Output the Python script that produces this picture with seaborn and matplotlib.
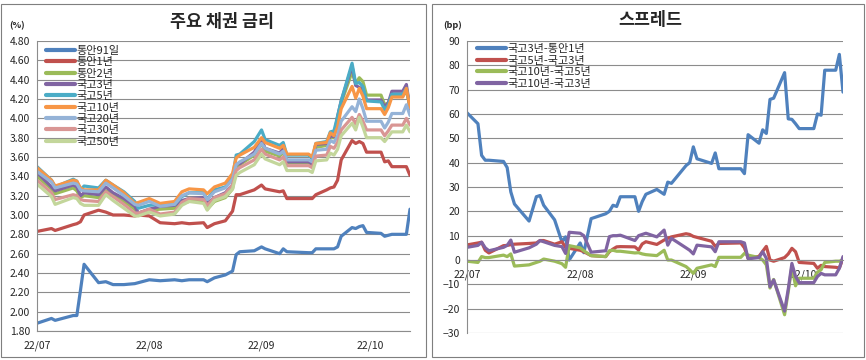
import pandas as pd
import matplotlib
matplotlib.use("Agg")
import matplotlib.pyplot as plt
import matplotlib.dates as mdates
from matplotlib.patches import Rectangle
from matplotlib.ticker import FormatStrFormatter
import seaborn as sns
import numpy as np

sns.set_style("white")
plt.rcParams['font.family'] = ['Noto Sans CJK KR', 'DejaVu Sans']

# ---- left chart: 주요 채권 금리 (%) ----
yield_dates = [
    "07-01", "07-05", "07-06", "07-11", "07-12", "07-13", "07-14", "07-18", "07-20", "07-22", "07-25", "07-28", "07-29",
    "08-01", "08-04", "08-08", "08-10", "08-12", "08-16", "08-17", "08-19", "08-22", "08-24", "08-25", "08-26", "08-30",
    "09-01", "09-02", "09-06", "09-07", "09-08", "09-14", "09-15", "09-16", "09-19", "09-20", "09-21", "09-22", "09-23",
    "09-26", "09-27", "09-28", "09-29", "09-30",
    "10-04", "10-05", "10-06", "10-07", "10-10", "10-11", "10-12",
]
msb91d = [1.88, 1.93, 1.91, 1.96, 1.96, 2.22, 2.49, 2.30, 2.31, 2.28, 2.28, 2.29, 2.30,
          2.33, 2.32, 2.33, 2.32, 2.33, 2.33, 2.31, 2.35, 2.38, 2.42, 2.59, 2.62, 2.63,
          2.67, 2.65, 2.60, 2.65, 2.62, 2.61, 2.61, 2.65, 2.65, 2.65, 2.65, 2.67, 2.78, 2.87, 2.86, 2.88, 2.89, 2.82,
          2.81, 2.78, 2.79, 2.80, 2.80, 2.80, 3.06]
msb1y = [2.83, 2.86, 2.84, 2.90, 2.91, 2.93, 3.00, 3.05, 3.03, 3.00, 3.00, 2.99, 3.00,
         2.99, 2.92, 2.91, 2.92, 2.91, 2.92, 2.87, 2.91, 2.94, 3.04, 3.21, 3.21, 3.26,
         3.31, 3.27, 3.24, 3.25, 3.17, 3.17, 3.17, 3.21, 3.26, 3.28, 3.29, 3.36, 3.57, 3.77, 3.74, 3.76, 3.74, 3.65,
         3.65, 3.55, 3.56, 3.50, 3.50, 3.50, 3.41]
msb2y = [3.40, 3.27, 3.22, 3.28, 3.25, 3.18, 3.20, 3.18, 3.25, 3.20, 3.14, 3.06, 3.02,
         3.05, 3.06, 3.07, 3.12, 3.14, 3.15, 3.06, 3.14, 3.18, 3.27, 3.50, 3.52, 3.62,
         3.74, 3.66, 3.61, 3.65, 3.54, 3.54, 3.52, 3.70, 3.72, 3.80, 3.80, 4.00, 4.16, 4.48, 4.36, 4.42, 4.38, 4.24,
         4.24, 4.14, 4.16, 4.23, 4.23, 4.28, 4.14]
ktb3y = [3.44, 3.29, 3.25, 3.31, 3.29, 3.20, 3.23, 3.21, 3.29, 3.23, 3.17, 3.09, 3.02,
         3.06, 3.09, 3.10, 3.15, 3.17, 3.18, 3.12, 3.18, 3.23, 3.31, 3.53, 3.53, 3.65,
         3.78, 3.69, 3.64, 3.69, 3.55, 3.55, 3.53, 3.73, 3.74, 3.82, 3.81, 4.02, 4.18, 4.54, 4.34, 4.32, 4.30, 4.19,
         4.19, 4.12, 4.16, 4.28, 4.28, 4.35, 4.10]
ktb5y = [3.50, 3.36, 3.29, 3.37, 3.35, 3.26, 3.30, 3.28, 3.36, 3.31, 3.24, 3.14, 3.07,
         3.10, 3.11, 3.11, 3.19, 3.23, 3.23, 3.16, 3.26, 3.29, 3.39, 3.62, 3.63, 3.76,
         3.88, 3.78, 3.72, 3.75, 3.62, 3.62, 3.58, 3.74, 3.76, 3.86, 3.87, 4.02, 4.18, 4.57, 4.36, 4.37, 4.33, 4.18,
         4.17, 4.09, 4.14, 4.25, 4.25, 4.31, 4.11]
ktb10y = [3.49, 3.36, 3.30, 3.36, 3.35, 3.28, 3.26, 3.26, 3.36, 3.31, 3.23, 3.12, 3.13,
          3.17, 3.12, 3.14, 3.24, 3.27, 3.26, 3.22, 3.29, 3.33, 3.43, 3.59, 3.62, 3.70,
          3.80, 3.75, 3.69, 3.72, 3.63, 3.63, 3.60, 3.74, 3.75, 3.85, 3.82, 3.91, 4.10, 4.33, 4.21, 4.31, 4.23, 4.10,
          4.10, 4.04, 4.11, 4.22, 4.22, 4.31, 4.11]
ktb20y = [3.45, 3.34, 3.28, 3.33, 3.32, 3.26, 3.25, 3.24, 3.33, 3.28, 3.20, 3.11, 3.10,
          3.14, 3.09, 3.11, 3.20, 3.23, 3.22, 3.16, 3.24, 3.28, 3.37, 3.52, 3.55, 3.63,
          3.74, 3.69, 3.63, 3.66, 3.57, 3.57, 3.55, 3.67, 3.68, 3.77, 3.75, 3.82, 3.97, 4.12, 4.07, 4.20, 4.10, 3.97,
          3.97, 3.90, 3.96, 4.05, 4.05, 4.14, 4.03]
ktb30y = [3.36, 3.23, 3.16, 3.21, 3.20, 3.16, 3.15, 3.14, 3.24, 3.19, 3.11, 3.02, 3.02,
          3.06, 3.01, 3.03, 3.13, 3.17, 3.16, 3.10, 3.18, 3.22, 3.31, 3.46, 3.49, 3.57,
          3.68, 3.63, 3.57, 3.60, 3.51, 3.51, 3.49, 3.61, 3.62, 3.71, 3.69, 3.75, 3.88, 4.01, 3.94, 4.04, 3.97, 3.88,
          3.88, 3.82, 3.87, 3.93, 3.93, 4.00, 3.93]
ktb50y = [3.32, 3.19, 3.11, 3.18, 3.17, 3.12, 3.10, 3.10, 3.21, 3.15, 3.07, 2.99, 2.99,
          3.03, 2.99, 3.01, 3.10, 3.14, 3.12, 3.05, 3.15, 3.19, 3.27, 3.41, 3.44, 3.52,
          3.63, 3.58, 3.52, 3.55, 3.46, 3.46, 3.44, 3.56, 3.57, 3.64, 3.62, 3.68, 3.82, 3.95, 3.88, 4.01, 3.91, 3.80,
          3.80, 3.76, 3.81, 3.86, 3.86, 3.93, 3.86]
yield_names = ["통안91일", "통안1년", "통안2년", "국고3년", "국고5년", "국고10년", "국고20년", "국고30년", "국고50년"]
yield_colors = ["#4F81BD", "#C0504D", "#9BBB59", "#8064A2", "#4BACC6", "#F79646", "#95B3D7", "#D99694", "#C3D69B"]

# ---- right chart: 스프레드 (bp) ----
spread_dates = [
    "07-01", "07-04", "07-05", "07-06", "07-07", "07-11", "07-12", "07-13", "07-14", "07-18", "07-20", "07-21",
    "07-22", "07-25", "07-27", "07-28", "07-29",
    "08-01", "08-02", "08-04", "08-08", "08-09", "08-10", "08-11", "08-12", "08-16", "08-17", "08-18", "08-19",
    "08-22", "08-24", "08-25", "08-26", "08-30", "08-31",
    "09-01", "09-02", "09-06", "09-07", "09-08", "09-14", "09-15", "09-16", "09-19", "09-20", "09-21", "09-22",
    "09-23", "09-26", "09-27", "09-28", "09-29", "09-30",
    "10-04", "10-05", "10-06", "10-07", "10-10", "10-11", "10-12",
]
sp_3y_1y = [60.5, 56, 43, 41, 41, 40.5, 38, 28, 23, 16, 26, 26.5, 22.5, 16.5, 7.5, 9.5, 0,
            7, 3, 17, 19, 20, 22.5, 22, 26, 26, 20, 24, 27, 29, 27, 32, 31.5, 38.8, 40,
            46.5, 41.6, 39.7, 44, 37.5, 37.5, 35.5, 51.5, 48, 53.5, 52, 66, 66.5, 77, 58, 57.8, 56, 54,
            54, 60, 59.5, 78, 78, 84.5, 69]
sp_5y_3y = [6.2, 7, 7.3, 4, 2.9, 5.9, 6, 6.3, 6.5, 6.8, 7, 8, 8, 6.5, 7.5, 5.2, 4.8,
            4, 3.4, 1.8, 1.4, 3.4, 4.5, 5.4, 5.5, 5.4, 4.1, 6.6, 7.5, 6.4, 8.2, 8.9, 9.5, 10.8, 10.5,
            9.7, 9.3, 7.7, 5.6, 6.8, 7, 5, 0.7, 1.5, 3.6, 5.6, 0, -0.5, 1, 2.5, 4.8, 3.4, -1,
            -1.4, -3.4, -2.2, -2.7, -3, -3.3, 0.7]
sp_10y_5y = [-0.5, -1, 1.4, 1, 1, 2, 1.4, 2.5, -2.5, -2, -1, -0.5, 0.4, -0.5, -1.5, -3, 5.9,
             5, 3.8, 1.8, 1.4, 3.8, 4, 3.6, 3.6, 2.9, 3, 2.5, 2.2, 1.8, 4, 0, 0, -2.7, -4,
             -5.5, -3.4, -2, -2.7, 1.1, 1.1, 2.7, 2, 1, 0, -2, -11.5, -8, -22.5, -13, -2.7, -10.6, -7.5,
             -7.5, -5, -4, -1, -0.5, -0.5, 0]
sp_10y_3y = [5.2, 6, 7.3, 5, 3.8, 5.2, 6, 8.2, 3.2, 5, 6.5, 8, 7.5, 6, 5.5, 2.7, 11.4,
             11, 10, 3.2, 3.8, 9.6, 10, 10, 10.2, 8, 10, 10.5, 11, 9.5, 12.3, 6.1, 8.9, 5, 4,
             2.5, 6.1, 5.4, 3.4, 7.5, 7.5, 7, 0.5, 1, 3.4, 0.7, -11, -8.2, -21, -12, -1.4, -6.8, -9.3,
             -9.3, -6.8, -5.5, -6.1, -6.1, -3.4, 1.4]
spread_names = ["국고3년-통안1년", "국고5년-국고3년", "국고10년-국고5년", "국고10년-국고3년"]
spread_colors = ["#4F81BD", "#C0504D", "#9BBB59", "#8064A2"]

month_ticks = pd.to_datetime(["2022-07-01", "2022-08-01", "2022-09-01", "2022-10-01"])
x_range = (pd.Timestamp("2022-07-01"), pd.Timestamp("2022-10-12"))
grid_c = "#8c8c8c"

yld = pd.DataFrame(dict(zip(yield_names, [msb91d, msb1y, msb2y, ktb3y, ktb5y, ktb10y, ktb20y, ktb30y, ktb50y])))
yld["date"] = pd.to_datetime(["2022-" + d for d in yield_dates])
yld = yld.melt(id_vars="date", var_name="series", value_name="value")

spr = pd.DataFrame(dict(zip(spread_names, [sp_3y_1y, sp_5y_3y, sp_10y_5y, sp_10y_3y])))
spr["date"] = pd.to_datetime(["2022-" + d for d in spread_dates])
spr = spr.melt(id_vars="date", var_name="series", value_name="value")

fig = plt.figure(figsize=(8.66, 3.6), dpi=100)
ax1 = fig.add_axes([37 / 866, 1 - 331 / 360, 373 / 866, 290 / 360])
ax2 = fig.add_axes([467 / 866, 1 - 333 / 360, 376 / 866, 292 / 360])


def style_axis(ax):
    ax.set_xlim(*x_range)
    ax.set_xticks(month_ticks)
    ax.xaxis.set_major_formatter(mdates.DateFormatter("%y/%m"))
    ax.grid(axis="y", color=grid_c, lw=0.8)
    ax.grid(axis="x", visible=False)
    ax.set_axisbelow(True)
    for s in ["top", "right"]:
        ax.spines[s].set_visible(False)
    for s in ["left", "bottom"]:
        ax.spines[s].set_color(grid_c)
        ax.spines[s].set_linewidth(0.8)
    ax.tick_params(axis="x", length=4, color=grid_c, labelsize=7.5, pad=3)
    ax.tick_params(axis="y", length=3, color=grid_c, labelsize=7.5, pad=2)
    ax.set_xlabel("")
    ax.set_ylabel("")


sns.lineplot(data=yld, x="date", y="value", hue="series", hue_order=yield_names,
             palette=yield_colors, linewidth=2.3, ax=ax1)
style_axis(ax1)
ax1.set_ylim(1.8, 4.8)
ax1.set_yticks(np.arange(1.8, 4.81, 0.2))
ax1.yaxis.set_major_formatter(FormatStrFormatter("%.2f"))
h, l = ax1.get_legend_handles_labels()
for hh in h:
    hh.set_linewidth(3)
ax1.legend(h, l, loc="upper left", bbox_to_anchor=(46 / 866, 1 - 46 / 360), bbox_transform=fig.transFigure,
           frameon=False, fontsize=8, handlelength=2.6, handletextpad=0.1, labelspacing=0.12,
           borderpad=0, borderaxespad=0)

sns.lineplot(data=spr, x="date", y="value", hue="series", hue_order=spread_names,
             palette=spread_colors, linewidth=2.3, ax=ax2)
style_axis(ax2)
ax2.set_ylim(-30, 90)
ax2.set_yticks(np.arange(-30, 91, 10))
ax2.spines["bottom"].set_position(("data", 0))
h, l = ax2.get_legend_handles_labels()
for hh in h:
    hh.set_linewidth(3)
ax2.legend(h, l, loc="upper left", bbox_to_anchor=(477 / 866, 1 - 44 / 360), bbox_transform=fig.transFigure,
           frameon=False, fontsize=8, handlelength=2.6, handletextpad=0.1, labelspacing=0.14,
           borderpad=0, borderaxespad=0)

fig.text(222 / 866, 1 - 22 / 360, "주요 채권 금리", ha="center", va="center", fontsize=12.5, fontweight="bold")
fig.text(650 / 866, 1 - 20 / 360, "스프레드", ha="center", va="center", fontsize=12.5, fontweight="bold")
fig.text(17 / 866, 1 - 26 / 360, "(%)", ha="center", va="center", fontsize=6.5, fontweight="bold")
fig.text(453 / 866, 1 - 25 / 360, "(bp)", ha="center", va="center", fontsize=6.5, fontweight="bold")

# chart frames
for x0, w in [(1, 425), (432, 432)]:
    fig.patches.append(Rectangle((x0 / 866, 3 / 360), w / 866, 353 / 360, transform=fig.transFigure,
                                 fill=False, ec="#7f7f7f", lw=0.8))

fig.savefig("out.png", dpi=100)
